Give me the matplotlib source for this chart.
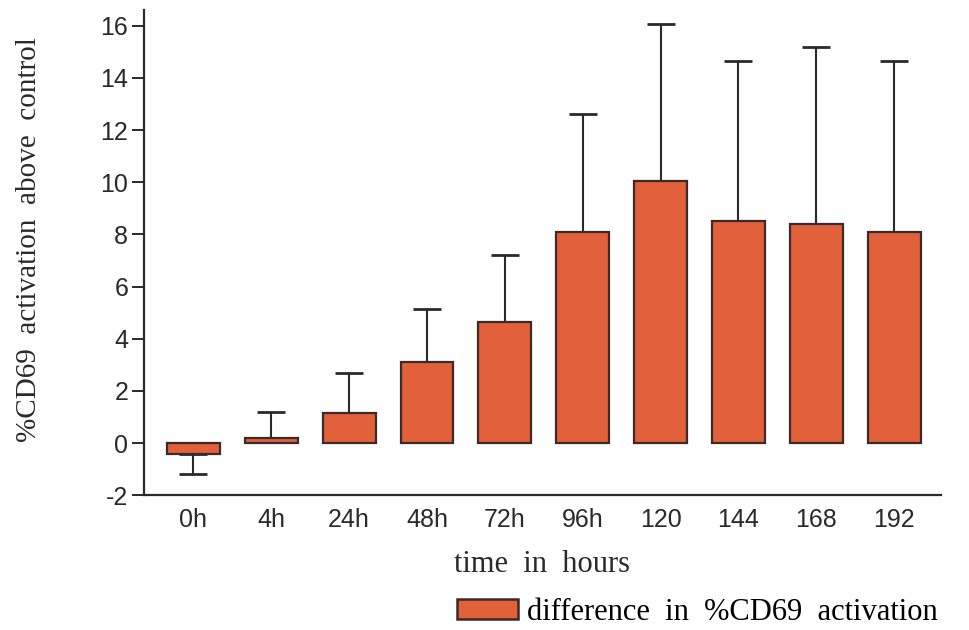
import numpy as np
import matplotlib
matplotlib.use('Agg')
import matplotlib.pyplot as plt
from matplotlib.patches import Patch

plt.rcParams['axes.unicode_minus'] = False

# --- data ---
labels = ['0h', '4h', '24h', '48h', '72h', '96h', '120', '144', '168', '192']
means = [-0.42, 0.2, 1.15, 3.1, 4.65, 8.1, 10.05, 8.5, 8.4, 8.1]
errs = [0.78, 1.0, 1.55, 2.05, 2.55, 4.5, 6.0, 6.15, 6.8, 6.55]

BAR = '#E2603A'
EDGE = '#3b2a2a'
INK = '#2a2a2a'

fig = plt.figure(figsize=(9.7, 6.3), dpi=100, facecolor='white')
ax = fig.add_axes([0.148, 0.214, 0.822, 0.77])

x = np.arange(len(labels))
# one-sided error bars: up for positive bars, down for negative
lower = [e if m < 0 else 0 for m, e in zip(means, errs)]
upper = [0 if m < 0 else e for m, e in zip(means, errs)]
ax.errorbar(x, means, yerr=[lower, upper], fmt='none', ecolor=INK,
            elinewidth=1.5, capsize=10, capthick=2.0, zorder=1)
ax.bar(x, means, width=0.68, color=BAR, edgecolor=EDGE, linewidth=1.6, zorder=2)

ax.set_xlim(-0.64, 9.6)
ax.set_ylim(-2, 16.6)
ax.set_yticks(np.arange(-2, 17, 2))
ax.set_xticks(x)
ax.set_xticklabels(labels)

for s in ['top', 'right']:
    ax.spines[s].set_visible(False)
for s in ['left', 'bottom']:
    ax.spines[s].set_color(INK)
    ax.spines[s].set_linewidth(1.6)

for t in ax.get_yticklabels() + ax.get_xticklabels():
    t.set_fontfamily('Liberation Sans')
    t.set_fontsize(18)
    t.set_color(INK)
ax.tick_params(axis='y', direction='out', length=9, width=1.4, color=INK, pad=2)
ax.tick_params(axis='x', length=0, pad=9)

serif = 'Liberation Serif'
ax.set_xlabel('time  in  hours', family=serif, fontsize=22, color=INK)
ax.xaxis.set_label_coords(0.5, -0.113)
ax.set_ylabel('%CD69  activation  above  control', family=serif, fontsize=21,
              color=INK)
ax.yaxis.set_label_coords(-0.128, 0.526)

handle = Patch(facecolor=BAR, edgecolor=EDGE, linewidth=1.8)
fig.legend([handle], ['difference  in  %CD69  activation'], loc='center left',
           bbox_to_anchor=(0.455, 0.028), frameon=False,
           prop={'family': serif, 'size': 22}, handlelength=2.0, handleheight=0.62,
           handletextpad=0.3, borderpad=0)

fig.savefig('out.png', dpi=100, facecolor='white')
